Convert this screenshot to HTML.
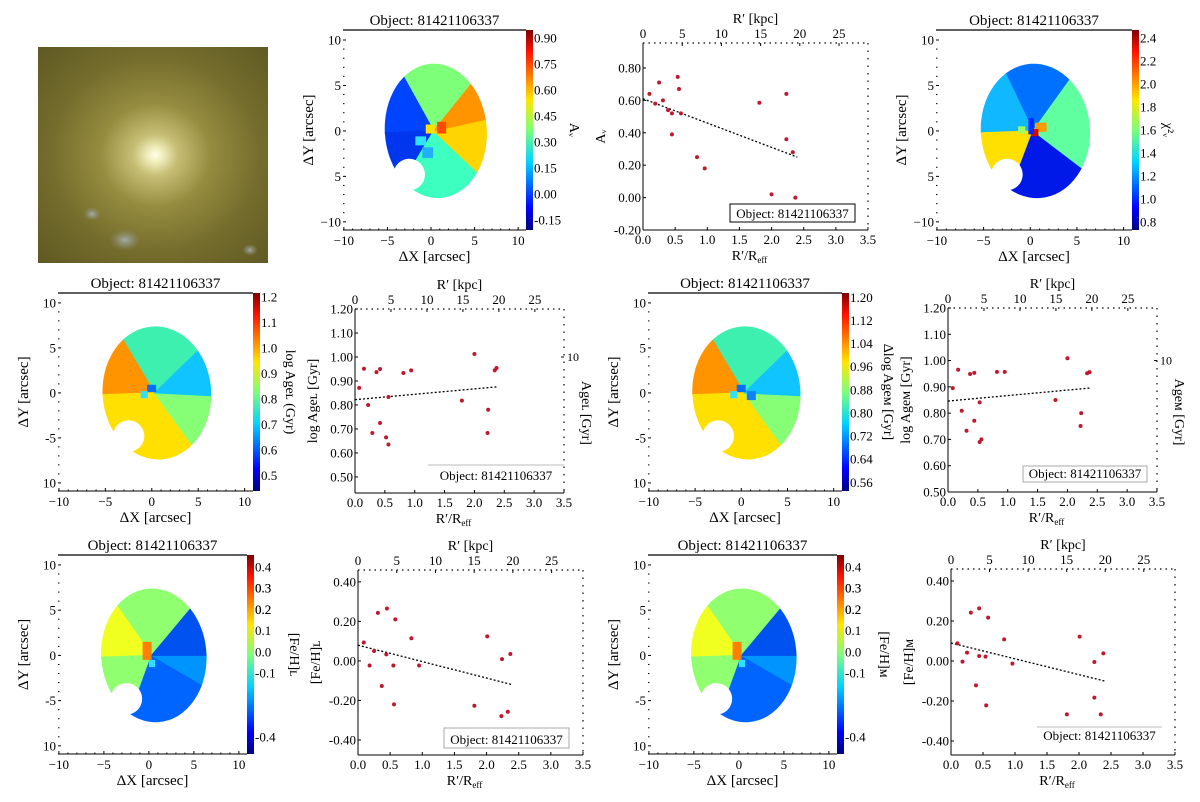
<!DOCTYPE html>
<html><head><meta charset="utf-8">
<style>
html,body{margin:0;padding:0;background:#fff;}
svg{display:block;font-family:"Liberation Serif","DejaVu Serif",serif;}
</style></head>
<body>
<svg id="fig" width="1200" height="802" viewBox="0 0 1200 802" xmlns="http://www.w3.org/2000/svg">
<defs>
<radialGradient id="glow" cx="0.51" cy="0.5" r="0.75">
<stop offset="0" stop-color="#ffffee"/>
<stop offset="0.04" stop-color="#f2f0c0"/>
<stop offset="0.13" stop-color="#c6be74"/>
<stop offset="0.32" stop-color="#958c40"/>
<stop offset="0.6" stop-color="#756d2c"/>
<stop offset="1" stop-color="#5c5622"/>
</radialGradient>
<radialGradient id="blob" cx="0.5" cy="0.5" r="0.5">
<stop offset="0" stop-color="#a8b4b8" stop-opacity="0.9"/>
<stop offset="1" stop-color="#8a9080" stop-opacity="0"/>
</radialGradient>
<linearGradient id="jet" x1="0" y1="1" x2="0" y2="0">
<stop offset="0" stop-color="#00007f"/>
<stop offset="0.11" stop-color="#0000ff"/>
<stop offset="0.34" stop-color="#00d4ff"/>
<stop offset="0.5" stop-color="#7dff7a"/>
<stop offset="0.65" stop-color="#ffe600"/>
<stop offset="0.89" stop-color="#ff1300"/>
<stop offset="1" stop-color="#7f0000"/>
</linearGradient>
</defs>
<g>
<rect x="38" y="47" width="230" height="216" fill="url(#glow)"/>
<ellipse cx="125" cy="240" rx="16" ry="11" fill="url(#blob)"/>
<ellipse cx="92" cy="214" rx="9" ry="7" fill="url(#blob)"/>
<ellipse cx="250" cy="250" rx="8" ry="6" fill="url(#blob)"/>
</g>
</svg>
<script>
// ---- scatter data ----
const rA = [0.10,0.19,0.25,0.31,0.39,0.45,0.45,0.54,0.56,0.59,0.84,0.96,1.81,2.00,2.23,2.23,2.33,2.37];
const avVals = [0.64,0.58,0.71,0.60,0.54,0.52,0.39,0.745,0.67,0.52,0.25,0.18,0.585,0.02,0.64,0.36,0.28,0.00];
const avFit = [0.61,0.25];
const rAgeL = [0.07,0.15,0.22,0.29,0.36,0.42,0.42,0.52,0.56,0.56,0.81,0.94,1.79,2.00,2.22,2.23,2.34,2.37];
const ageLVals = [0.871,0.951,0.80,0.683,0.937,0.95,0.725,0.665,0.635,0.833,0.933,0.944,0.818,1.0125,0.683,0.78,0.944,0.954];
const ageLFit = [0.822,0.876];
const rAgeM = [0.08,0.17,0.23,0.31,0.37,0.44,0.44,0.53,0.53,0.56,0.82,0.95,1.80,2.00,2.23,2.22,2.33,2.37];
const ageMVals = [0.895,0.965,0.809,0.733,0.949,0.953,0.771,0.841,0.69,0.70,0.957,0.957,0.85,1.009,0.80,0.751,0.952,0.956];
const ageMFit = [0.846,0.896];
const rFeL = [0.09,0.18,0.25,0.31,0.37,0.45,0.44,0.55,0.56,0.58,0.83,0.95,1.81,2.01,2.23,2.24,2.33,2.37];
const feLVals = [0.093,-0.023,0.05,0.243,-0.127,0.265,0.033,-0.023,-0.22,0.21,0.115,-0.023,-0.227,0.124,-0.279,0.009,-0.257,0.035];
const feLFit = [0.08,-0.12];
const rFeM = [0.10,0.18,0.25,0.31,0.39,0.44,0.44,0.54,0.55,0.58,0.83,0.96,1.81,2.01,2.24,2.24,2.34,2.38];
const feMVals = [0.088,-0.003,0.042,0.242,-0.122,0.263,0.025,0.022,-0.222,0.217,0.108,-0.013,-0.267,0.122,-0.005,-0.183,-0.267,0.038];
const feMFit = [0.09,-0.10];
const fitRange = [0,2.4];
const xTicks = ["0.0","0.5","1.0","1.5","2.0","2.5","3.0","3.5"];
const kpcTicks = ["0","5","10","15","20","25"];
const avTicks = ["0.80","0.60","0.40","0.20","0.00","-0.20"];
const ageTicks = ["1.20","1.10","1.00","0.90","0.80","0.70","0.60","0.50"];
const feTicks = ["0.40","0.20","0.00","-0.20","-0.40"];
// ---- colorbar tick labels ----
const cbAv = ["0.90","0.75","0.60","0.45","0.30","0.15","0.00","-0.15"];
const cbChi = ["2.4","2.2","2.0","1.8","1.6","1.4","1.2","1.0","0.8"];
const cbAgeL = ["1.2","1.1","1.0","0.9","0.8","0.7","0.6","0.5"];
const cbAgeM = ["1.20","1.12","1.04","0.96","0.88","0.80","0.72","0.64","0.56"];
const cbFe = ["0.4","0.3","0.2","0.1","0.0","-0.1","0.2","0.3","-0.4"];

const NS="http://www.w3.org/2000/svg";
const fig=document.getElementById('fig');
function mk(tag,attrs,parent){const e=document.createElementNS(NS,tag);for(const k in attrs)e.setAttribute(k,attrs[k]);(parent||fig).appendChild(e);return e;}
function txt(s,x,y,size,anchor,parent,rot){const t=mk('text',{x:x,y:y,'font-size':size,'text-anchor':anchor||'middle',fill:'#000'},parent);if(rot)t.setAttribute('transform','rotate('+rot+' '+x+' '+y+')');t.textContent=s;return t;}

function scatter(c){
  const g=mk('g',{});
  
  
  const sx=v=>c.x0+(v-0)/3.5*(c.x1-c.x0);
  const sy=v=>c.y1-(v-c.ylim[0])/(c.ylim[1]-c.ylim[0])*(c.y1-c.y0);
  mk('line',{x1:c.x0,y1:c.y0,x2:c.x0,y2:c.y1,stroke:'#000','stroke-width':1},g);
  mk('line',{x1:c.x0,y1:c.y1,x2:c.x1,y2:c.y1,stroke:'#000','stroke-width':1},g);
  mk('line',{x1:c.x0,y1:c.y0,x2:c.x1,y2:c.y0,stroke:'#000','stroke-width':1.2,'stroke-dasharray':'1.5,4'},g);
  mk('line',{x1:c.x1,y1:c.y0,x2:c.x1,y2:c.y1,stroke:'#000','stroke-width':1.2,'stroke-dasharray':'1.5,6'},g);
  xTicks.forEach(s=>{const v=parseFloat(s);const x=sx(v);
    mk('line',{x1:x,y1:c.y1,x2:x,y2:c.y1-3,stroke:'#000'},g);
    txt(s,x,c.y1+14,13,'middle',g);});
  const kmax=3.5*c.k;
  kpcTicks.forEach(s=>{const v=parseFloat(s);const x=c.x0+v/kmax*(c.x1-c.x0);
    mk('line',{x1:x,y1:c.y0,x2:x,y2:c.y0+3,stroke:'#000'},g);
    txt(s,x,c.y0-5,13,'middle',g);});
  c.yt.forEach(s=>{const v=parseFloat(s);const y=sy(v);
    mk('line',{x1:c.x0,y1:y,x2:c.x0+3,y2:y,stroke:'#000'},g);
    txt(s,c.x0-2,y+4.5,13,'end',g);});
  txt("R\u2032 [kpc]",(c.x0+c.x1)/2,c.y0-20,14,'middle',g);
  const xl=txt("R\u2032/R",(c.x0+c.x1)/2-6,c.y1+30,14,'middle',g);
  const sub=mk('tspan',{'font-size':9,dy:3},xl);sub.textContent='eff';
  txt(c.ylabel,c.x0-38,(c.y0+c.y1)/2,14,'middle',g,-90);
  if(c.rlabel){txt(c.rlabel,c.x1+18,(c.y0+c.y1)/2+12,14,'middle',g,90);
    const y10=sy(1.0);mk('line',{x1:c.x1,y1:y10,x2:c.x1-3,y2:y10,stroke:'#000'},g);txt("10",c.x1+3,y10+4,12,'start',g);}
  const fl=mk('line',{x1:sx(fitRange[0]),y1:sy(c.fit[0]),x2:sx(fitRange[1]),y2:sy(c.fit[1]),stroke:'#000','stroke-width':1.3,'stroke-dasharray':'2,2'},g);
  
  
  c.xs.forEach((xv,i)=>{
    const p=mk('circle',{cx:sx(xv),cy:sy(c.ys[i]),r:2,fill:'#c0182e'},g);
    
    
  });
  const b=c.box;
  if(b.border) mk('rect',{x:b.x,y:b.y,width:b.w,height:b.h,fill:'#fff',stroke:b.border,'stroke-width':1},g);
  else mk('line',{x1:b.x,y1:b.y,x2:b.x+b.w,y2:b.y,stroke:'#bbb'},g);
  const lt=txt("Object: 81421106337",b.x+b.w/2,b.y+b.h-4,13,'middle',g);
  
  
}

function mapPanel(c){
  const g=mk('g',{});
  
  
  const xl=[-10.1,10.9], yl=[-10.9,11.1];
  const sx=v=>c.x0+(v-xl[0])/(xl[1]-xl[0])*(c.x1-c.x0);
  const sy=v=>c.y1-(v-yl[0])/(yl[1]-yl[0])*(c.y1-c.y0);
  const id='clip'+c.name;
  const cp=mk('clipPath',{id:id},g);
  mk('ellipse',{cx:sx(0.55),cy:sy(0),rx:5.85*(c.x1-c.x0)/21,ry:7.4*(c.y1-c.y0)/22,transform:'rotate(-4 '+sx(0.55)+' '+sy(0)+')'},cp);
  const sg=mk('g',{'clip-path':'url(#'+id+')'},g);
  c.sectors.forEach(s=>{
    let pts=[[sx(0.3),sy(0)]];
    const arc=a=>{const r=a*Math.PI/180;pts.push([sx(0.3+12*Math.cos(r)),sy(12*Math.sin(r))]);};
    for(let a=s[0];a<s[1];a+=3)arc(a);
    arc(s[1]);
    const p=mk('polygon',{points:pts.map(q=>q.join(',')).join(' '),fill:s[2],stroke:s[2],'stroke-width':1},sg);
    
    
  });
  c.blobs.forEach(b=>{mk('rect',{x:sx(b[0]),y:sy(b[1]),width:b[2]*9,height:b[3]*9,fill:b[4]},sg);});
  mk('circle',{cx:sx(-2.5),cy:sy(-4.8),r:1.75*9,fill:'#fff'},g);
  mk('line',{x1:c.x0,y1:c.y0,x2:c.x1,y2:c.y0,stroke:'#000','stroke-width':1.2},g);
  mk('line',{x1:c.x0,y1:c.y1,x2:c.x1,y2:c.y1,stroke:'#000','stroke-width':1},g);
  for(let v=-10;v<=10;v+=1){
    mk('line',{x1:c.x0,y1:sy(v),x2:c.x0+(v%5?1.5:3),y2:sy(v),stroke:'#000'},g);
    mk('line',{x1:sx(v),y1:c.y1,x2:sx(v),y2:c.y1-(v%5?1.5:3),stroke:'#000'},g);
  }
  ["\u221210","\u22125","0","5","10"].forEach((s,i)=>{const v=-10+5*i;txt(s,sx(v),c.y1+15,13,'middle',g);});
  c.ylabs.forEach((s,i)=>{const v=10-5*i;txt(s,c.x0-2,sy(v)+4.5,13,'end',g);});
  txt("\u0394X [arcsec]",(c.x0+c.x1)/2,c.y1+31,15,'middle',g);
  txt("\u0394Y [arcsec]",c.x0-30,(c.y0+c.y1)/2,15,'middle',g,-90);
  const t=txt("Object: 81421106337",(c.x0+c.x1)/2,c.y0-5,15,'middle',g);
  
  
  const cb=mk('rect',{x:c.x1,y:c.y0,width:7,height:c.y1-c.y0,fill:'url(#jet)'},g);
  
  
  c.cbt.forEach(s=>{const v=parseFloat(s.replace('\u2212','-'));
    const y=c.y1-(v-c.vl[0])/(c.vl[1]-c.vl[0])*(c.y1-c.y0);
    txt(s,c.x1+8,y+4.5,13,'start',g);});
  txt(c.cblabel,c.x1+c.cbo,(c.y0+c.y1)/2,14,'middle',g,90);
}

mapPanel({name:'av-map',x0:343,x1:526,y0:30,y1:230,vl:[-0.208,0.946],cbt:cbAv,cblabel:'A\u1d65',cbo:44,
  ylabs:["10","5","0","5","\u221210"],
  sectors:[[50,120,'#7dff7a'],[120,182,'#0044ff'],[182,238,'#0036ee'],[238,318,'#3cffc0'],[318,372,'#ffd400'],[12,50,'#ff9400']],
  blobs:[[-0.6,0.7,1,1,'#ffe000'],[0.7,1.0,1,1.3,'#ff4a00'],[-1.8,-0.6,1.2,1,'#30e0ff'],[-1,-1.8,1.2,1.2,'#20b0ff']]});
mapPanel({name:'chi2-map',x0:936,x1:1132,y0:30,y1:230,vl:[0.73,2.47],cbt:cbChi,cblabel:'\u03c7\u00b2\u1d65',cbo:32,
  ylabs:["10","5","0","5","\u221210"],
  sectors:[[55,115,'#0070ff'],[115,182,'#10b8ff'],[182,250,'#ffe000'],[250,322,'#0018e8'],[322,415,'#60ffa0']],
  blobs:[[0.5,0.9,1.3,1,'#ff9a00'],[0.1,0.2,0.8,0.8,'#e00000'],[-1.3,0.5,0.8,0.8,'#a0ff60'],[-0.2,1.4,0.6,1.8,'#0028ff']]});
mapPanel({name:'age-l-map',x0:58,x1:253,y0:293,y1:491,vl:[0.44,1.215],cbt:cbAgeL,cblabel:'log Age\u029f (Gyr)',cbo:33,
  ylabs:["10","5","0","-5","10"],
  sectors:[[45,120,'#3ef0b0'],[120,182,'#ff9400'],[182,305,'#ffe000'],[305,357,'#86ff76'],[357,405,'#10c4ff']],
  blobs:[[-0.5,0.9,1,0.8,'#0070ff'],[-1.2,0.2,0.8,0.8,'#30e0ff']]});
mapPanel({name:'age-m-map',x0:648,x1:842,y0:293,y1:491,vl:[0.53,1.215],cbt:cbAgeM,cblabel:'\u0394log Age\u1d0d [Gyr]',cbo:42,
  ylabs:["10","5","0","-5","10"],
  sectors:[[45,120,'#3ef0b0'],[120,182,'#ff9400'],[182,305,'#ffe000'],[305,357,'#86ff76'],[357,405,'#10c4ff']],
  blobs:[[-0.5,0.9,1,0.8,'#0070ff'],[0.6,0.2,1,1,'#1080ff'],[-1.2,0.2,0.8,0.8,'#30e0ff']]});
mapPanel({name:'fe-l-map',x0:58,x1:247,y0:555,y1:754,vl:[-0.48,0.456],cbt:cbFe,cblabel:'[Fe/H]\u029f',cbo:43,
  ylabs:["10","5","0","-5","10"],
  sectors:[[50,125,'#90ff70'],[125,182,'#f0ff20'],[182,250,'#90ff70'],[250,330,'#0064ff'],[330,360,'#0094ff'],[0,50,'#0052f0']],
  blobs:[[-0.7,1.5,1,2,'#ff8000'],[0,-0.5,0.7,0.8,'#30e0ff']]});
mapPanel({name:'fe-m-map',x0:648,x1:837,y0:555,y1:754,vl:[-0.48,0.456],cbt:cbFe,cblabel:'[Fe/H]\u1d0d',cbo:43,
  ylabs:["10","5","0","-5","10"],
  sectors:[[50,125,'#90ff70'],[125,182,'#f0ff20'],[182,250,'#90ff70'],[250,330,'#0064ff'],[330,360,'#0094ff'],[0,50,'#0052f0']],
  blobs:[[-0.7,1.5,1,2,'#ff8000'],[0,-0.5,0.7,0.8,'#30e0ff']]});

scatter({name:'av-profile',x0:643,x1:868,y0:43,y1:230,ylim:[-0.2,0.954],k:8.2,yt:avTicks,ylabel:'A\u1d65',
  xs:rA,ys:avVals,fit:avFit,box:{x:730,y:204,w:125,h:18,border:'#000'}});
scatter({name:'age-l-profile',x0:355,x1:564,y0:309,y1:493,ylim:[0.433,1.2],k:8.3,yt:ageTicks,ylabel:'log Age\u029f [Gyr]',rlabel:'Age\u029f [Gyr]',
  xs:rAgeL,ys:ageLVals,fit:ageLFit,box:{x:428,y:465,w:136,h:19}});
scatter({name:'age-m-profile',x0:948,x1:1157,y0:308,y1:492,ylim:[0.5,1.2],k:8.3,yt:ageTicks,ylabel:'log Age\u1d0d [Gyr]',rlabel:'Age\u1d0d [Gyr]',
  xs:rAgeM,ys:ageMVals,fit:ageMFit,box:{x:1023,y:466,w:124,h:16,border:'#aaa'}});
scatter({name:'fe-l-profile',x0:358,x1:583,y0:570,y1:755,ylim:[-0.476,0.46],k:8.3,yt:feTicks,ylabel:'[Fe/H]\u029f',
  xs:rFeL,ys:feLVals,fit:feLFit,box:{x:444,y:728,w:125,h:20,border:'#aaa'}});
scatter({name:'fe-m-profile',x0:951,x1:1175,y0:569,y1:755,ylim:[-0.47,0.46],k:8.3,yt:feTicks,ylabel:'[Fe/H]\u1d0d',
  xs:rFeM,ys:feMVals,fit:feMFit,box:{x:1037,y:727,w:125,h:17}});
</script>
</body></html>
